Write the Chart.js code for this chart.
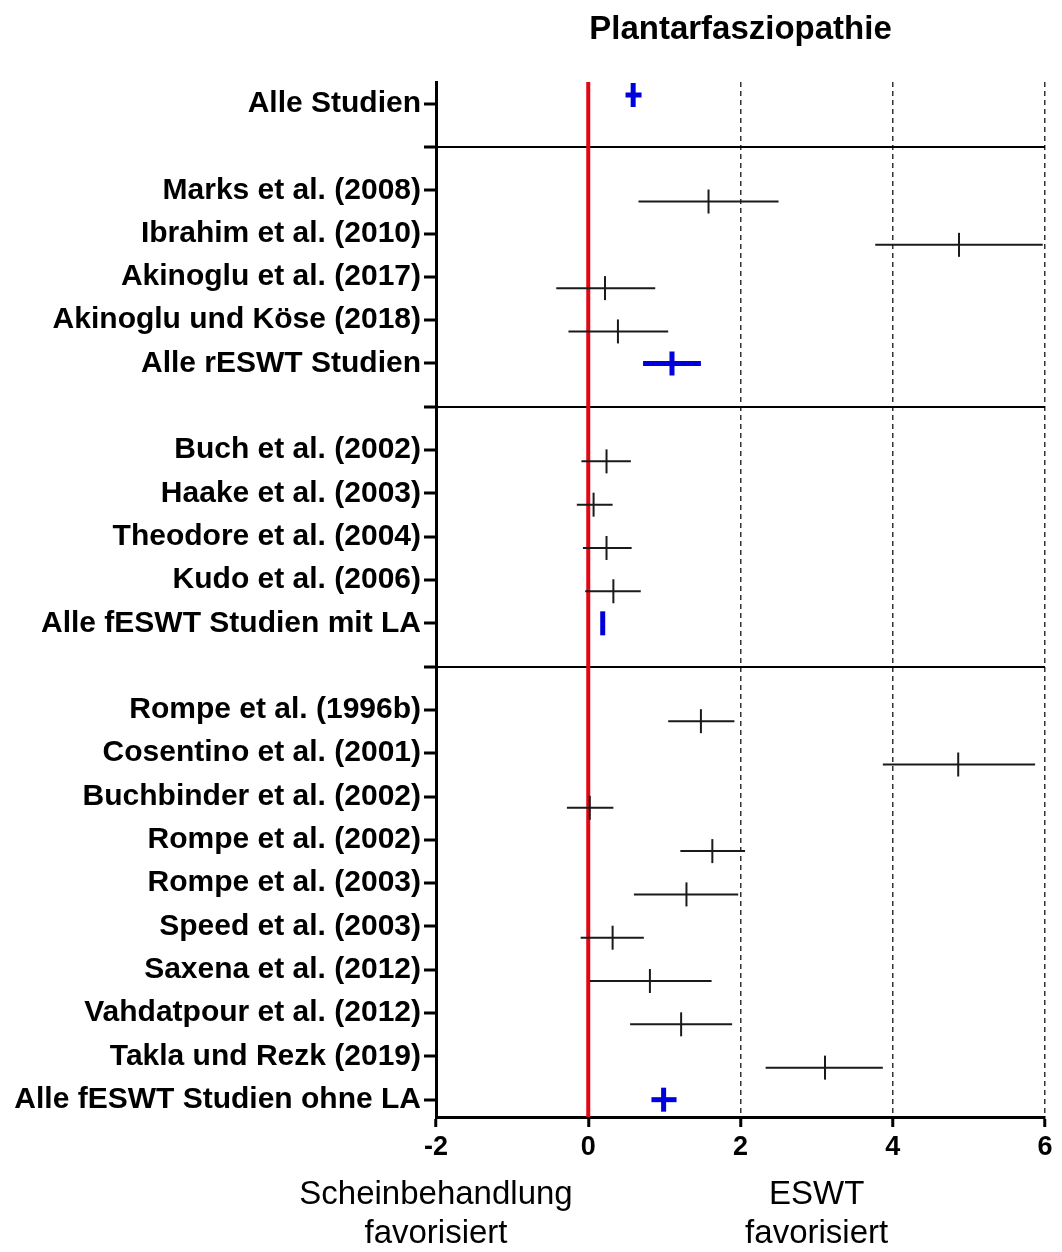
<!DOCTYPE html>
<html lang="de">
<head>
<meta charset="UTF-8">
<title>Plantarfasziopathie</title>
<style>
  html, body { margin: 0; padding: 0; overflow: hidden; background: #fff; }
  canvas { display: block; }
</style>
<script src="https://cdn.jsdelivr.net/npm/chart.js"></script>
</head>
<body>
<canvas id="forest" width="1062" height="1252"></canvas>
<script>
// rows from top to bottom, '' = separator row
const rowLabels = [
  'Alle Studien', '',
  'Marks et al. (2008)', 'Ibrahim et al. (2010)', 'Akinoglu et al. (2017)',
  'Akinoglu und Köse (2018)', 'Alle rESWT Studien', '',
  'Buch et al. (2002)', 'Haake et al. (2003)', 'Theodore et al. (2004)',
  'Kudo et al. (2006)', 'Alle fESWT Studien mit LA', '',
  'Rompe et al. (1996b)', 'Cosentino et al. (2001)', 'Buchbinder et al. (2002)',
  'Rompe et al. (2002)', 'Rompe et al. (2003)', 'Speed et al. (2003)',
  'Saxena et al. (2012)', 'Vahdatpour et al. (2012)', 'Takla und Rezk (2019)',
  'Alle fESWT Studien ohne LA'
];

// single studies: effect size with confidence interval
const studyNames = [
  'Marks et al. (2008)', 'Ibrahim et al. (2010)', 'Akinoglu et al. (2017)', 'Akinoglu und Köse (2018)',
  'Buch et al. (2002)', 'Haake et al. (2003)', 'Theodore et al. (2004)', 'Kudo et al. (2006)',
  'Rompe et al. (1996b)', 'Cosentino et al. (2001)', 'Buchbinder et al. (2002)', 'Rompe et al. (2002)',
  'Rompe et al. (2003)', 'Speed et al. (2003)', 'Saxena et al. (2012)', 'Vahdatpour et al. (2012)',
  'Takla und Rezk (2019)'
];
const studyMean = [1.58, 4.87, 0.22, 0.39, 0.24, 0.07, 0.24, 0.33, 1.48, 4.86, 0.02, 1.63, 1.29, 0.32, 0.81, 1.22, 3.11];
const studyLow  = [0.66, 3.77, -0.42, -0.26, -0.09, -0.15, -0.07, -0.04, 1.05, 3.87, -0.28, 1.21, 0.60, -0.10, 0.02, 0.55, 2.33];
const studyHigh = [2.50, 5.97, 0.88, 1.05, 0.56, 0.32, 0.57, 0.69, 1.92, 5.87, 0.33, 2.06, 1.97, 0.73, 1.62, 1.89, 3.87];

// pooled estimates
const summaryNames = ['Alle Studien', 'Alle rESWT Studien', 'Alle fESWT Studien mit LA', 'Alle fESWT Studien ohne LA'];
const summaryMean = [0.59, 1.10, 0.19, 0.99];
const summaryLow  = [0.49, 0.72, 0.19, 0.83];
const summaryHigh = [0.70, 1.48, 0.19, 1.16];

const xTicks = [-2, 0, 2, 4, 6];
const chartTitle = 'Plantarfasziopathie';
const sideNotes = [
  { at: -2, lines: ['Scheinbehandlung', 'favorisiert'] },
  { at: 3, lines: ['ESWT', 'favorisiert'] }
];

const FONT = '"Liberation Sans", Arial, sans-serif';
const BLACK = '#1a1a1a';
const BLUE = '#0000dd';
const RED = '#e30613';
const Y_MIN = -0.5, Y_MAX = 23.4;
const STUDY_SHIFT = 0.26;   // single studies sit a little below their tick
const ALL_SHIFT = -0.2;     // "Alle Studien" sits a little above

const rowOf = name => rowLabels.indexOf(name);

const datasets = [];

studyNames.forEach((name, i) => {
  const y = rowOf(name) + STUDY_SHIFT;
  datasets.push({
    data: [{ x: studyLow[i], y }, { x: studyHigh[i], y }],
    showLine: true, borderColor: BLACK, borderWidth: 2, pointRadius: 0, order: 2
  });
});
datasets.push({
  data: studyNames.map((name, i) => ({ x: studyMean[i], y: rowOf(name) + STUDY_SHIFT })),
  showLine: false, pointStyle: 'line', pointRotation: 90, pointRadius: 12,
  pointBorderWidth: 2, pointBorderColor: BLACK, borderColor: BLACK, order: 1
});

summaryNames.forEach((name, i) => {
  const y = rowOf(name) + (i === 0 ? ALL_SHIFT : 0);
  datasets.push({
    data: [{ x: summaryLow[i], y }, { x: summaryHigh[i], y }],
    showLine: true, borderColor: BLUE, borderWidth: 5, pointRadius: 0, order: 2
  });
});
datasets.push({
  data: summaryNames.map((name, i) => ({ x: summaryMean[i], y: rowOf(name) + (i === 0 ? ALL_SHIFT : 0) })),
  showLine: false, pointStyle: 'line', pointRotation: 90, pointRadius: 12,
  pointBorderWidth: 5, pointBorderColor: BLUE, borderColor: BLUE, order: 1
});

// line of no effect
datasets.push({
  data: [{ x: 0, y: Y_MIN }, { x: 0, y: Y_MAX }],
  showLine: true, borderColor: RED, borderWidth: 4, pointRadius: 0, order: 10
});

const annotate = {
  id: 'annotate',
  afterDraw(chart) {
    const { ctx, chartArea, scales: { x } } = chart;
    ctx.save();
    ctx.fillStyle = '#000';
    ctx.textAlign = 'center';
    ctx.textBaseline = 'middle';
    ctx.font = 'bold 33px ' + FONT;
    ctx.fillText(chartTitle, (chartArea.left + chartArea.right) / 2, 30);
    ctx.font = '33px ' + FONT;
    sideNotes.forEach(n => {
      const cx = x.getPixelForValue(n.at);
      n.lines.forEach((t, k) => ctx.fillText(t, cx, 1195 + k * 39));
    });
    ctx.restore();
  }
};

new Chart(document.getElementById('forest'), {
  type: 'scatter',
  data: { datasets },
  plugins: [annotate],
  options: {
    responsive: false,
    animation: false,
    layout: { padding: { top: 82, right: 4, left: 0, bottom: 0 } },
    plugins: { legend: { display: false }, tooltip: { enabled: false } },
    scales: {
      x: {
        type: 'linear', min: -2, max: 6,
        afterBuildTicks: s => { s.ticks = xTicks.map(v => ({ value: v })); },
        afterFit: s => { s.height = 135; },
        ticks: { color: '#000', padding: 4, font: { family: FONT, size: 27, weight: 'bold' }, callback: v => String(v) },
        grid: {
          color: c => (c.tick && c.tick.value > 0) ? '#333' : 'transparent',
          lineWidth: 1.5, tickColor: '#000', tickLength: 10, tickWidth: 3
        },
        border: { color: '#000', width: 3, dash: [5, 4] }
      },
      y: {
        type: 'linear', reverse: true, min: Y_MIN, max: Y_MAX,
        afterBuildTicks: s => { s.ticks = rowLabels.map((_, i) => ({ value: i })); },
        afterFit: s => { s.width = 436; },
        ticks: { autoSkip: false, color: '#000', padding: 3, font: { family: FONT, size: 30, weight: 'bold' }, callback: v => rowLabels[v] },
        grid: {
          color: c => (c.tick && rowLabels[c.tick.value] === '') ? '#000' : 'transparent',
          lineWidth: 2, tickColor: '#000', tickLength: 12, tickWidth: 3
        },
        border: { color: '#000', width: 3 }
      }
    }
  }
});
</script>
</body>
</html>
